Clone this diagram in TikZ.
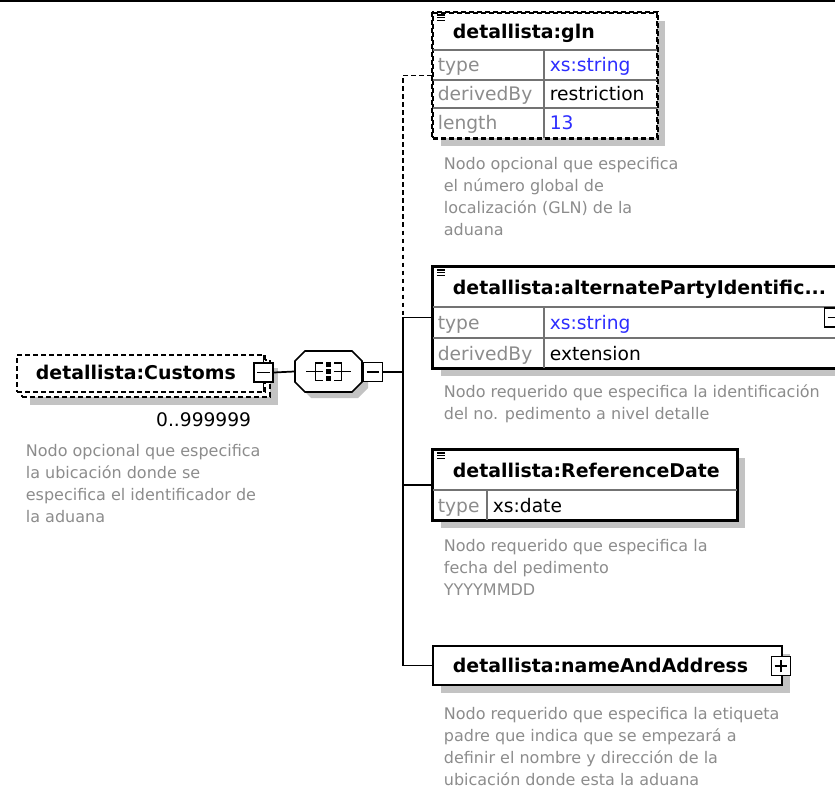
\documentclass[tikz,border=0pt]{standalone}
\usepackage{fontspec}
\setmainfont{DejaVu Sans}
\usepackage{xcolor}
\usetikzlibrary{fit}
\usetikzlibrary{shadows}

\definecolor{xsblue}{RGB}{45,45,255}
\definecolor{descgray}{RGB}{140,140,140}
\definecolor{shadowgray}{RGB}{195,195,195}

\begin{document}
\begin{tikzpicture}[
    x=0.75pt, y=-0.75pt,
    line width=1.3pt,
    elembox/.style={draw, fill=white, inner sep=0pt, line width=1.5pt},
    shadowed/.style={drop shadow={shadow xshift=6pt, shadow yshift=-6pt, fill=shadowgray, opacity=1}},
    optional/.style={dash pattern=on 3.6pt off 2.4pt},
    cellline/.style={draw=black!55, line width=0.9pt},
    title/.style={anchor=base west, inner sep=0pt, font=\fontsize{14.2}{17}\selectfont\bfseries},
    cell/.style={anchor=base west, inner sep=0pt, font=\fontsize{14}{17}\selectfont},
    key/.style={cell, text=descgray},
    desc/.style={anchor=north west, inner sep=0pt, align=left, text=descgray,
      font=\fontsize{12}{16.5}\selectfont},
    ctrl/.style={draw, fill=white, inner sep=0pt, minimum size=14.5pt, line width=1.2pt},
    minusbox/.style={ctrl, path picture={
      \draw[line width=0.9pt] ([xshift=2.5pt]path picture bounding box.west)
        -- ([xshift=-2.5pt]path picture bounding box.east);}},
    plusbox/.style={ctrl, path picture={
      \draw[line width=0.9pt] ([xshift=2.5pt]path picture bounding box.west)
        -- ([xshift=-2.5pt]path picture bounding box.east)
        ([yshift=2.5pt]path picture bounding box.south)
        -- ([yshift=-2.5pt]path picture bounding box.north);}},
    docicon/.pic={
      \draw[line width=0.8pt] (0,0) -- (8,0) (0,2.6) -- (8,2.6) (0,5.2) -- (8,5.2);},
  ]
  \useasboundingbox (0,0) rectangle (835,788);
  \clip (0,0) rectangle (835,788);

  \draw[line width=1.5pt] (0,0.8) -- (835,0.8);

  % Customs (optional, repeated)
  \node[elembox, shadowed, optional, fit={(22,360) (270,397)}] (customsback) {};
  \node[elembox, optional, fit={(17,355) (265,392)}] (customs) {};
  \node[title] (customstitle) at (35,379) {detallista:Customs};
  \node[minusbox] (cminus) at (263.5,372.5) {};
  \draw (cminus.north) -- ++(0,-7);
  \draw (cminus.south) -- ++(0,9);
  \node[cell, anchor=base east] (customsocc) at (252,426) {0..999999};
  \node[desc] (customsdesc) at (25,443)
    {Nodo opcional que especifica\\la ubicación donde se\\especifica el identificador de\\la aduana};

  % Sequence
  \node[inner sep=0pt, fit={(295,351) (362,392)}] (seq) {};
  \fill[shadowgray, xshift=4.5pt, yshift=-4.5pt] (305,351) -- (352,351) -- (362,361) -- (362,382)
    -- (352,392) -- (305,392) -- (295,382) -- (295,361) -- cycle;
  \draw[fill=white] (305,351) -- (352,351) -- (362,361) -- (362,382)
    -- (352,392) -- (305,392) -- (295,382) -- (295,361) -- cycle;
  \draw (306,371.5) -- (323,371.5);
  \draw (323,363) -- (315.5,363) -- (315.5,380.5) -- (323,380.5);
  \draw (334,371.5) -- (351,371.5);
  \draw (334,363) -- (341.5,363) -- (341.5,380.5) -- (334,380.5);
  \foreach \dy in {364.5,371.5,378.5}
    \fill (326,\dy-2.6) rectangle (331,\dy+2.6);
  \node[minusbox] (sminus) at (373,372) {};
  \coordinate (bus) at (403,372);

  % gln
  \node[elembox, shadowed, optional, fit={(433,13) (657,138)}] (gln) {};
  \draw[cellline] (433,50) -- (657,50) (433,80) -- (657,80) (433,108) -- (657,108)
    (544,50) -- (544,138);
  \draw[optional, line width=1.5pt] (gln.north west) rectangle (gln.south east);
  \pic at (437,15) {docicon};
  \node[title] (glntitle) at (452,38.5) {detallista:gln};
  \node[key] (glntype) at (437,72) {type};
  \node[cell, text=xsblue] (glntypev) at (549,72) {xs:string};
  \node[key] (glnder) at (437,101) {derivedBy};
  \node[cell] (glnderv) at (549,101) {restriction};
  \node[key] (glnlen) at (437,130) {length};
  \node[cell, text=xsblue] (glnlenv) at (549,130) {13};
  \node[desc] (glndesc) at (443,156)
    {Nodo opcional que especifica\\el número global de\\localización (GLN) de la\\aduana};

  % alternatePartyIdentification
  \node[elembox, shadowed, fit={(433,267) (845,368)}] (alt) {};
  \draw[cellline] (433,307) -- (845,307) (433,338) -- (845,338) (544,307) -- (544,368);
  \draw[line width=1.5pt] (alt.north west) rectangle (alt.south east);
  \pic at (437,270) {docicon};
  \node[title] (alttitle) at (452,294) {detallista:alternatePartyIdentific...};
  \node[key] (alttype) at (437,329) {type};
  \node[cell, text=xsblue] (alttypev) at (549,329) {xs:string};
  \node[key] (altder) at (437,360) {derivedBy};
  \node[cell] (altderv) at (549,360) {extension};
  \node[minusbox] (altminus) at (834,317.5) {};
  \node[desc] (altdesc) at (443,384)
    {Nodo requerido que especifica la identificación\\del no. pedimento a nivel detalle};

  % ReferenceDate
  \node[elembox, shadowed, fit={(433,450) (737,520)}] (ref) {};
  \draw[cellline] (433,490) -- (737,490) (487,490) -- (487,520);
  \draw[line width=1.5pt] (ref.north west) rectangle (ref.south east);
  \pic at (437,453) {docicon};
  \node[title] (reftitle) at (452,477) {detallista:ReferenceDate};
  \node[key] (reftype) at (437,512) {type};
  \node[cell] (reftypev) at (492,512) {xs:date};
  \node[desc] (refdesc) at (443,538)
    {Nodo requerido que especifica la\\fecha del pedimento\\YYYYMMDD};

  % nameAndAddress
  \node[elembox, shadowed, fit={(433,646) (782,685)}] (name) {};
  \node[title] (nametitle) at (452,672.5) {detallista:nameAndAddress};
  \node[plusbox] (nameplus) at (781,666) {};
  \node[desc] (namedesc) at (443,706)
    {Nodo requerido que especifica la etiqueta\\padre que indica que se empezará a\\definir el nombre y dirección de la\\ubicación donde esta la aduana};

  % Connectors
  \draw (cminus.east) -- (seq.west);
  \draw (sminus.east) -- (bus);
  \draw[optional] (gln.west) -| (bus |- alt.west);
  \draw (alt.west) -| (bus |- name.west) -- (name.west);
  \draw (ref.west) -- (bus |- ref.west);

\end{tikzpicture}
\end{document}
